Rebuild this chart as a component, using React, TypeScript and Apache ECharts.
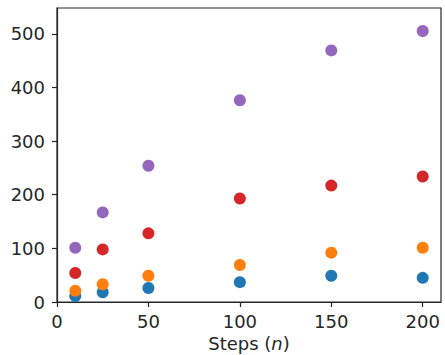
import React, { useEffect, useRef } from "react";
import * as echarts from "echarts";

const steps = [10, 25, 50, 100, 150, 200];
const blueVals = [11, 18, 26, 37, 49, 45];
const orangeVals = [21, 33, 49, 69, 92, 101];
const redVals = [54, 98, 128, 193, 217, 234];
const purpleVals = [101, 167, 254, 376, 469, 505];
const colors = ["#1f77b4", "#ff7f0e", "#d62728", "#9467bd"];
const seriesVals = [blueVals, orangeVals, redVals, purpleVals];

const axisColor = "#262626";
const font = "DejaVu Sans";

export default function App() {
  const ref = useRef<HTMLDivElement>(null);
  useEffect(() => {
    if (!ref.current) return;
    const chart = echarts.init(ref.current, undefined, { renderer: "svg" });
    chart.setOption({
      animation: false,
      grid: {
        left: 57,
        right: 4,
        top: 8,
        bottom: 53,
        containLabel: false,
        outerBoundsMode: "none",
        show: true,
        borderColor: axisColor,
        borderWidth: 1.2,
        backgroundColor: "transparent",
      },
      xAxis: {
        type: "value",
        min: 0,
        max: 210,
        interval: 50,
        splitLine: { show: false },
        axisLine: { show: true, lineStyle: { color: axisColor, width: 1.2 } },
        axisTick: { show: true, length: 5, lineStyle: { color: axisColor, width: 1.2 } },
        axisLabel: {
          color: axisColor,
          fontFamily: font,
          fontSize: 18,
          margin: 10,
          showMaxLabel: false,
          formatter: (v: number) => (v % 50 === 0 ? String(v) : ""),
        },
        name: "{a|Steps (}{b|n}{a|)}",
        nameLocation: "middle",
        nameGap: 31,
        nameTextStyle: {
          rich: {
            a: { fontFamily: font, fontSize: 18, color: axisColor, lineHeight: 20 },
            b: { fontFamily: font, fontSize: 18, color: axisColor, fontStyle: "italic", lineHeight: 20 },
          },
        },
      },
      yAxis: {
        type: "value",
        min: 0,
        max: 548,
        interval: 100,
        splitLine: { show: false },
        axisLine: { show: true, lineStyle: { color: axisColor, width: 1.2 } },
        axisTick: { show: true, length: 5, lineStyle: { color: axisColor, width: 1.2 } },
        axisLabel: {
          color: axisColor,
          fontFamily: font,
          fontSize: 18,
          margin: 12,
          showMaxLabel: false,
          formatter: (v: number) => (v % 100 === 0 ? String(v) : ""),
        },
      },
      series: seriesVals.map((vals, i) => ({
        type: "scatter",
        symbol: "circle",
        symbolSize: 12,
        itemStyle: { color: colors[i], opacity: 1 },
        data: steps.map((s, j) => [s, vals[j]]),
      })),
    });
    return () => chart.dispose();
  }, []);
  return (
    <div
      ref={ref}
      style={{ position: "fixed", left: 0, top: 0, width: 445, height: 355, background: "#fff" }}
    />
  );
}
